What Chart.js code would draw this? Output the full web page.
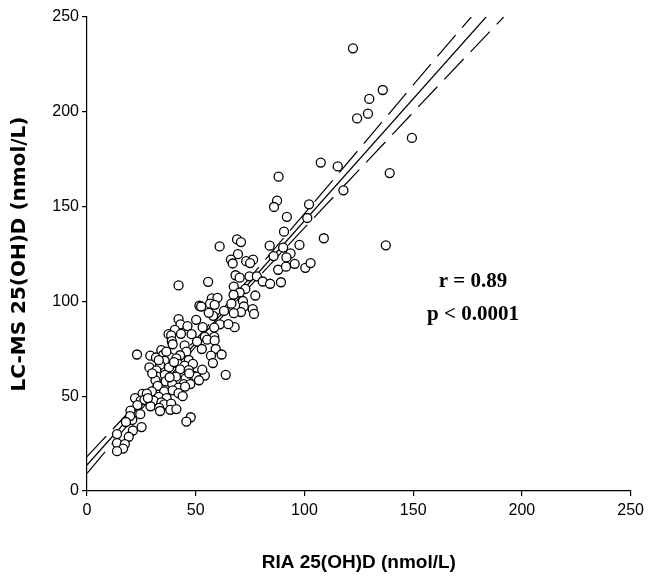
<!DOCTYPE html>
<html>
<head>
<meta charset="utf-8">
<script src="https://cdn.jsdelivr.net/npm/chart.js@4"></script>
<style>
  body { margin: 0; background: #fff; }
  #wrap { width: 649px; height: 579px; }
</style>
</head>
<body>
<div id="wrap"><canvas id="vitdChart" width="649" height="579"></canvas></div>
<script>
// RIA 25(OH)D (x) vs LC-MS 25(OH)D (y), nmol/L
const riaValues = [
    122.3, 136, 129.8, 129.2, 124.2, 149.4, 139.2, 107.5, 115.3, 117.9,
    88.1, 87.4, 86, 91.9, 102.1, 101.3, 90.6, 108.9, 137.4, 69,
    70.8, 61, 84, 90.2, 97.7, 85.8, 93.6, 91.7, 69.4, 66.2,
    67, 73.2, 76.4, 75, 95.5, 100.4, 102.8, 87.9, 91.5, 68.3,
    70.2, 74.7, 78.1, 80.8, 84.2, 89.2, 42.1, 55.7, 67.5, 72.8,
    70.2, 77.4, 57.4, 60, 67.4, 51.7, 56.6, 52.5, 58.7, 66.4,
    71.7, 72.1, 76.2, 76.8, 70.8, 67.5, 58, 50.2, 61.1, 67.9,
    58.5, 42.1, 43, 46.2, 53.2, 40.4, 48.1, 37.5, 38.7, 43.2,
    54.2, 58.5, 55.3, 39, 39.4, 44.9, 50.6, 58.7, 45.7, 52.8,
    59.2, 23, 61.9, 29.1, 34.2, 34.9, 42.8, 38.1, 31.7, 41.1,
    46.8, 57, 35.7, 41.9, 44.9, 48.7, 57.9, 33.6, 37.7, 28.7,
    31.9, 42.8, 46.8, 49.1, 54.2, 63.8, 32.3, 35.8, 40.9, 45.3,
    50.2, 51.5, 31.5, 36.2, 39.2, 44.5, 47.5, 32.5, 42.1, 45.1,
    29.8, 35.5, 39.4, 42.1, 25.5, 27.5, 22.1, 33, 36.6, 24.7,
    26.4, 30.6, 34.2, 35.5, 38.7, 29.2, 23.2, 33.2, 38.3, 41.1,
    20, 33.6, 24.5, 20.8, 19.8, 17.9, 47.7, 45.7, 25.1, 21.1,
    13.8, 19.2, 13.8, 17.4, 16.6, 13.8,
    36.5, 40, 47, 53, 30, 38, 44, 28, 63, 65, 56, 33
];
const lcmsValues = [
    233.5, 211.5, 206.8, 199, 196.5, 186.2, 167.7, 173.2, 171.2, 158.6,
    165.8, 153.1, 149.8, 144.6, 151.2, 144, 136.8, 133.3, 129.6, 132.7,
    131.3, 129, 129.4, 128.4, 129.8, 123.9, 125.3, 123.2, 124.9, 122,
    120, 121.2, 122, 120.2, 119.8, 117.7, 120.2, 116.7, 118.3, 113.8,
    112.5, 113.2, 113.2, 110.5, 109.3, 110.1, 108.4, 110.3, 107.8, 106.6,
    104.7, 103.1, 101.6, 101.9, 103.5, 97.7, 98.8, 97.3, 98.2, 98.8,
    100.2, 97.3, 95.9, 93.4, 94.4, 93.8, 92.4, 90.3, 87.9, 86.4,
    86.2, 90.7, 87.9, 87, 86.4, 85, 82.7, 82.7, 82.1, 82.9,
    81.3, 81.3, 79.8, 79, 77.4, 76.8, 78.8, 79.4, 73.5, 74.9,
    74.9, 72, 72, 71.4, 74.3, 71.6, 71.6, 70.6, 70.4, 70,
    69.1, 71.4, 68.7, 67.1, 66.1, 67.1, 67.5, 66.5, 65.2, 65.2,
    63.6, 64.2, 63.8, 60.7, 60.9, 61.3, 60.3, 61.3, 60.3, 59.3,
    60.3, 58.4, 58.4, 57.8, 56.4, 56.4, 56.4, 55.4, 54.5, 55.1,
    52.5, 52.5, 53.1, 51.6, 51.2, 51.4, 49, 49.6, 49, 47.7,
    48.1, 47.7, 46.7, 45.7, 46.1, 44.7, 45.3, 43.8, 42.8, 43.2,
    42.4, 42.2, 40.5, 37.5, 39.5, 36.4, 38.9, 36.6, 33.7, 31.9,
    30, 28.6, 25.3, 24.7, 22.4, 21,
    73.5, 68, 62, 64, 62, 60, 50, 49, 95, 88, 94, 69
];

// regression line and its 95% band
const fitX = [0, 183.5];
const fitY = [13.7, 250];
const upperX = [0, 20, 40, 55, 70, 100, 130, 160, 176.7];
const upperY = [18.1, 42.6, 67.3, 86.3, 106.0, 146.3, 186.9, 227.7, 250];
const lowerX = [0, 20, 40, 55, 70, 100, 130, 160, 191.6];
const lowerY = [9.3, 36.4, 63.1, 82.7, 101.8, 138.8, 175.3, 211.9, 250];

const tickValues = [0, 50, 100, 150, 200, 250];
const statLines = ['r = 0.89', 'p < 0.0001'];

const toPoints = (xs, ys) => xs.map((x, i) => ({ x: x, y: ys[i] }));

const statsLabel = {
    id: 'statsLabel',
    afterDatasetsDraw(chart) {
        const c = chart.ctx;
        const xs = chart.scales.x, ys = chart.scales.y;
        c.save();
        c.fillStyle = '#000';
        c.font = 'bold 21px "Liberation Serif", "Times New Roman", serif';
        c.textAlign = 'center';
        c.textBaseline = 'alphabetic';
        c.fillText(statLines[0], xs.getPixelForValue(177.5), ys.getPixelForValue(107.7));
        c.fillText(statLines[1], xs.getPixelForValue(177.5), ys.getPixelForValue(90.2));
        c.restore();
    }
};

const tickFont = { family: '"Liberation Sans Narrow", "Arial Narrow", "Liberation Sans", sans-serif', size: 16 };

const ctx = document.getElementById('vitdChart').getContext('2d');
const vitdChart = new Chart(ctx, {
    type: 'scatter',
    data: {
        datasets: [
            {
                label: 'Samples',
                data: toPoints(riaValues, lcmsValues),
                pointRadius: 4.5,
                pointBorderWidth: 1.3,
                pointBorderColor: '#000',
                pointBackgroundColor: '#fff'
            },
            {
                label: 'Fit',
                type: 'line',
                data: toPoints(fitX, fitY),
                borderColor: '#000',
                borderWidth: 1.2,
                pointRadius: 0,
                fill: false
            },
            {
                label: 'Upper 95%',
                type: 'line',
                data: toPoints(upperX, upperY),
                borderColor: '#000',
                borderWidth: 1.2,
                borderDash: [28, 10],
                cubicInterpolationMode: 'monotone',
                pointRadius: 0,
                fill: false
            },
            {
                label: 'Lower 95%',
                type: 'line',
                data: toPoints(lowerX, lowerY),
                borderColor: '#000',
                borderWidth: 1.2,
                borderDash: [28, 10],
                cubicInterpolationMode: 'monotone',
                pointRadius: 0,
                fill: false
            }
        ]
    },
    options: {
        responsive: false,
        animation: false,
        layout: { padding: { top: 17, right: 13, left: 0, bottom: 0 } },
        plugins: {
            legend: { display: false },
            tooltip: { enabled: false }
        },
        scales: {
            x: {
                type: 'linear',
                min: 0,
                max: 250,
                afterBuildTicks: (s) => { s.ticks = tickValues.map(v => ({ value: v })); },
                afterFit: (s) => { s.height = 88; },
                grid: { drawOnChartArea: false, tickLength: 5, color: '#000', lineWidth: 1.2 },
                border: { color: '#000', width: 1.2 },
                ticks: { color: '#000', padding: 5, font: tickFont },
                title: {
                    display: true,
                    text: 'RIA 25(OH)D (nmol/L)',
                    color: '#000',
                    padding: { top: 0, bottom: 5 },
                    font: { family: '"Liberation Sans", Arial, sans-serif', size: 19, weight: 'bold' }
                }
            },
            y: {
                type: 'linear',
                min: 0,
                max: 250,
                afterBuildTicks: (s) => { s.ticks = tickValues.map(v => ({ value: v })); },
                afterFit: (s) => { s.width = 87; },
                grid: { drawOnChartArea: false, tickLength: 5, color: '#000', lineWidth: 1.2 },
                border: { color: '#000', width: 1.2 },
                ticks: { color: '#000', padding: 3, font: tickFont },
                title: {
                    display: true,
                    text: 'LC-MS 25(OH)D (nmol/L)',
                    color: '#000',
                    padding: { top: 8, bottom: 0 },
                    font: { family: '"DejaVu Sans", sans-serif', size: 20, weight: 'bold' }
                }
            }
        }
    },
    plugins: [statsLabel]
});
</script>
</body>
</html>
